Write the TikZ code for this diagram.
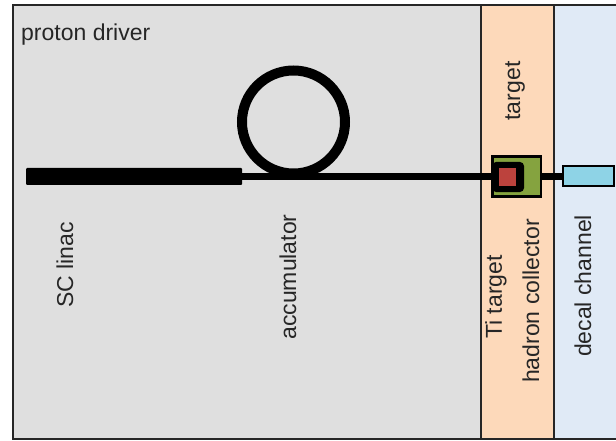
\documentclass[tikz,border=0pt]{standalone}
\usepackage{fontspec}
\setmainfont{Liberation Sans}
\definecolor{drivergray}{HTML}{DFDFDF}
\definecolor{targetpeach}{HTML}{FDD9BA}
\definecolor{decayblue}{HTML}{E0EAF6}
\definecolor{hornGreen}{HTML}{85A33F}
\definecolor{tiRed}{HTML}{BC423D}
\definecolor{pipeCyan}{HTML}{8ED3E6}
\begin{document}
\begin{tikzpicture}[x=1pt, y=-1pt,
        frame/.style = {draw=black!85, line width=2pt},
        txt/.style = {font=\fontsize{23}{28}\selectfont, inner sep=0pt, text=black!85},
        vtxt/.style = {txt, rotate=90},
        linacbar/.style = {rectangle, fill=black, rounded corners=1pt, inner sep=0pt, outer sep=0pt, minimum width=216pt, minimum height=17pt},
        ring/.style = {circle, draw=black, line width=10pt, inner sep=0pt, minimum size=103pt},
        tgtbox/.style = {rectangle, fill=hornGreen, inner sep=0pt, outer sep=0pt, minimum width=48.5pt, minimum height=39.5pt},
        pipe/.style = {rectangle, draw=black, line width=2pt, fill=pipeCyan, inner sep=0pt, outer sep=0pt, minimum width=51pt, minimum height=20pt},
        beam/.style = {line width=7pt}
    ]
    \useasboundingbox (0,0) rectangle (616,441);

    % ================= FONDOS =================
    \fill[drivergray] (13,5) rectangle (481,439);
    \fill[targetpeach] (481,5) rectangle (554,439);
    \fill[decayblue] (554,5) rectangle (616,439);
    \draw[frame] (616,5) -- (13,5) -- (13,439) -- (616,439);
    \draw[frame] (481,5) -- (481,439);
    \draw[frame] (554,5) -- (554,439);

    % ================= PROTON DRIVER =================
    \node[txt, anchor=base west] (driver) at (21,41) {proton driver};

    \node[linacbar] (linac) at (134,176.5) {};
    \node[ring] (accu) at (293.5,122) {};

    \node[vtxt] (linaclbl) at (65,265) {SC linac};
    \node[vtxt] (accubl) at (288,277) {accumulator};

    % ================= TARGET =================
    \node[tgtbox] (tgt) at (516.5,176.5) {};
    \fill[black, rounded corners=4pt] (492,162) rectangle (524,192);
    \fill[tiRed] (499,168) rectangle (516,186);
    \draw[black, line width=2.5pt] (tgt.north west) rectangle (tgt.south east);

    \node[vtxt] (tgtlbl) at (515,91) {target};
    \node[vtxt] (tilbl) at (496,297) {Ti target};
    \node[vtxt] (collbl) at (531,301) {hadron collector};

    % ================= DECAY CHANNEL =================
    \node[pipe] (decay) at (588.5,176.5) {};
    \node[vtxt] (decaylbl) at (583,286) {decal channel};

    % Haz de protones
    \draw[beam] (linac.east) -- (tgt.west);
    \draw[beam] (tgt.east) -- (decay.west);

\end{tikzpicture}
\end{document}
